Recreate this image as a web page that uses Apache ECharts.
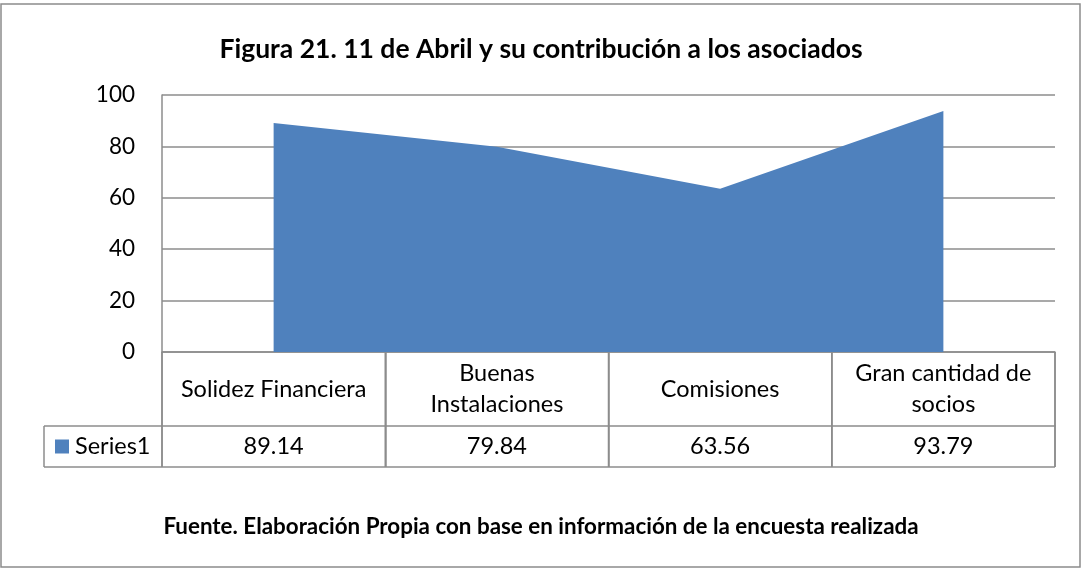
<!DOCTYPE html>
<html>
<head>
<meta charset="utf-8">
<script src="https://cdn.jsdelivr.net/npm/echarts@6/dist/echarts.min.js"></script>
<style>
  html, body { margin: 0; padding: 0; background: #fff; }
  #chart { width: 1082px; height: 569px; }
</style>
</head>
<body>
<div id="chart"></div>
<script>
// Datos de la figura
const categorias = ['Solidez Financiera', 'Buenas Instalaciones', 'Comisiones', 'Gran cantidad de socios'];
const etiquetasCategoria = ['Solidez Financiera', 'Buenas\nInstalaciones', 'Comisiones', 'Gran cantidad de\nsocios'];
const valores = [89.14, 79.84, 63.56, 93.79];
const nombreSerie = 'Series1';
const titulo = 'Figura 21. 11 de Abril y su contribución a los asociados';
const fuente = 'Fuente. Elaboración Propia con base en información de la encuesta realizada';

const FONT = 'Lato, "Noto Sans", sans-serif';
const AZUL = '#4F81BD';
const GRIS = '#8c8c8c';
const GRID = { left: 162, right: 27, top: 95, bottom: 217 };
const FILA_CAT = 74;   // alto de la fila de categorías
const FILA_VAL = 41;   // alto de la fila de valores
const TXT = 23.5;

const chart = echarts.init(document.getElementById('chart'));

chart.setOption({
    animation: false,
    title: [
        { text: titulo, left: 'center', top: 31, textStyle: { fontFamily: FONT, fontSize: 26.5, fontWeight: 'bold', color: '#000' } },
        { text: fuente, left: 'center', top: 511, textStyle: { fontFamily: FONT, fontSize: 22.4, fontWeight: 'bold', color: '#000' } }
    ],
    grid: GRID,
    xAxis: [
        {
            type: 'category',
            data: categorias,
            boundaryGap: true,
            axisLine: { show: true, lineStyle: { color: GRIS, width: 1.5 } },
            axisTick: { show: true, interval: 0, length: FILA_CAT + FILA_VAL, lineStyle: { color: GRIS, width: 1.5 } },
            axisLabel: {
                interval: 0,
                margin: FILA_CAT / 2,
                verticalAlign: 'middle',
                align: 'center',
                lineHeight: 31,
                fontFamily: FONT,
                fontSize: TXT,
                color: '#000',
                formatter: (v, i) => etiquetasCategoria[i]
            }
        },
        {
            type: 'category',
            data: categorias,
            position: 'bottom',
            offset: FILA_CAT,
            boundaryGap: true,
            axisLine: { show: true, lineStyle: { color: GRIS, width: 1.5 } },
            axisTick: { show: false },
            axisLabel: {
                interval: 0,
                margin: FILA_VAL / 2,
                verticalAlign: 'middle',
                fontFamily: FONT,
                fontSize: TXT,
                color: '#000',
                formatter: (v, i) => valores[i].toFixed(2)
            }
        }
    ],
    yAxis: {
        type: 'value',
        min: 0,
        max: 100,
        interval: 20,
        axisLine: { show: true, lineStyle: { color: GRIS, width: 1.5 } },
        axisTick: { show: false },
        axisLabel: { margin: 27, fontFamily: FONT, fontSize: 22.5, color: '#000' },
        splitLine: { lineStyle: { color: GRIS, width: 1.5 } }
    },
    series: [{
        name: nombreSerie,
        type: 'line',
        data: valores,
        symbol: 'none',
        lineStyle: { width: 0, color: AZUL },
        areaStyle: { color: AZUL, opacity: 1 }
    }]
});

// Celda de leyenda "Series1" y bordes restantes de la tabla
const x0 = chart.convertToPixel({ xAxisIndex: 0 }, categorias[0]);
const paso = chart.convertToPixel({ xAxisIndex: 0 }, categorias[1]) - x0;
const izq = x0 - paso / 2;
const der = izq + paso * categorias.length;
const yBase = chart.convertToPixel({ yAxisIndex: 0 }, 0);
const yFila = yBase + FILA_CAT;
const yFin = yFila + FILA_VAL;
const celdaIzq = 44;
const lineaGris = { stroke: GRIS, lineWidth: 1.5 };

const bordes = [];
for (let i = 0; i <= categorias.length; i++) {
    const x = izq + paso * i;
    bordes.push({ type: 'line', shape: { x1: x, y1: yBase, x2: x, y2: yFin }, style: lineaGris, silent: true });
}

chart.setOption({
    graphic: [
        { type: 'rect', shape: { x: 1, y: 4, width: 1079, height: 563 }, style: { fill: 'none', stroke: GRIS, lineWidth: 1.5 }, silent: true },
        ...bordes,
        { type: 'line', shape: { x1: celdaIzq, y1: yFila, x2: izq, y2: yFila }, style: lineaGris },
        { type: 'line', shape: { x1: celdaIzq, y1: yFin, x2: der, y2: yFin }, style: lineaGris },
        { type: 'line', shape: { x1: celdaIzq, y1: yFila, x2: celdaIzq, y2: yFin }, style: lineaGris },
        { type: 'rect', shape: { x: celdaIzq + 11, y: yFila + FILA_VAL / 2 - 7, width: 14, height: 14 }, style: { fill: AZUL } },
        {
            type: 'text', x: celdaIzq + 31, y: yFila + FILA_VAL / 2,
            style: { text: nombreSerie, fontFamily: FONT, fontSize: TXT, fill: '#000', verticalAlign: 'middle' }
        }
    ]
});
</script>
</body>
</html>
